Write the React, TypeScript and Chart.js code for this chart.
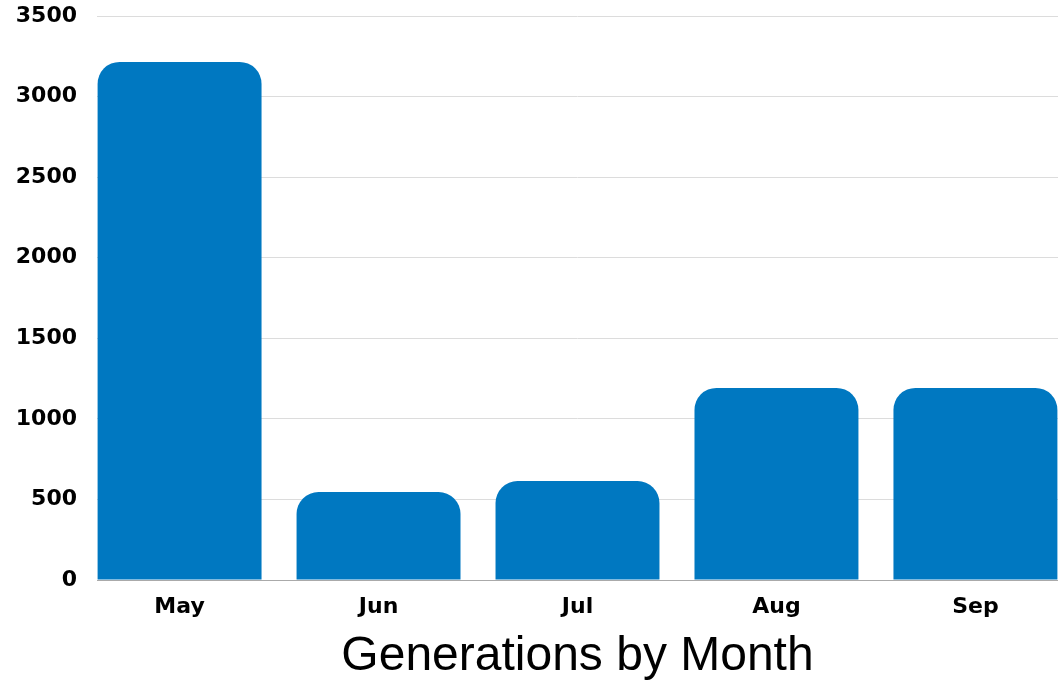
import React, { useEffect, useRef } from "react";
import { Chart, registerables } from "chart.js";

Chart.register(...registerables);

const months = ["May", "Jun", "Jul", "Aug", "Sep"];
const generations = [3215, 546, 614, 1192, 1192];
const yTicks = [0, 500, 1000, 1500, 2000, 2500, 3000, 3500];
const titleText = "Generations by Month";

export default function App() {
  const ref = useRef<HTMLCanvasElement | null>(null);

  useEffect(() => {
    if (!ref.current) return;
    const chart = new Chart(ref.current, {
      type: "bar",
      data: {
        datasets: [
          {
            label: "Generations",
            data: generations.map((v, i) => ({ x: i, y: v })),
            backgroundColor: "#0078C1",
            borderRadius: 22,
            borderSkipped: "start",
            barPercentage: 1,
            categoryPercentage: 0.824,
          },
        ],
      },
      options: {
        animation: false,
        responsive: true,
        maintainAspectRatio: false,
        layout: { padding: { top: 16, right: 0, left: 0, bottom: 0 } },
        plugins: {
          legend: { display: false },
          tooltip: { enabled: false },
          title: {
            display: true,
            text: titleText,
            position: "bottom",
            fullSize: false,
            color: "#000",
            padding: { top: 0, bottom: 0 },
            font: { family: "'Liberation Sans', Arial, sans-serif", size: 48, weight: "normal" },
          },
        },
        scales: {
          x: {
            type: "linear",
            offset: false,
            min: -0.415,
            max: 4.415,
            grid: { display: false, drawTicks: false },
            border: { display: true, color: "#aaaaaa" },
            afterBuildTicks: (scale: any) => {
              scale.ticks = months.map((_, i) => ({ value: i }));
            },
            afterFit: (scale: any) => {
              scale.height = 48.4;
              scale.paddingLeft = 0;
              scale.paddingRight = 0;
            },
            ticks: {
              padding: 14,
              color: "#000",
              font: { family: "'DejaVu Sans', sans-serif", size: 22, weight: "bold" },
              callback: (v: any) => months[v] ?? "",
            },
          },
          y: {
            min: 0,
            max: 3500,
            grid: { color: "#dcdcdc", drawTicks: false },
            border: { display: false },
            afterBuildTicks: (scale: any) => {
              scale.ticks = yTicks.map((v) => ({ value: v }));
            },
            afterFit: (scale: any) => {
              scale.width = 97;
              scale.paddingTop = 0;
              scale.paddingBottom = 0;
            },
            ticks: {
              padding: 20,
              color: "#000",
              font: { family: "'DejaVu Sans', sans-serif", size: 22, weight: "bold" },
              callback: (v: any) => String(v),
            },
          },
        },
      },
    });
    return () => chart.destroy();
  }, []);

  return (
    <div style={{ position: "fixed", left: 0, top: 0, width: 1058, height: 686, background: "#fff" }}>
      <canvas ref={ref} />
    </div>
  );
}
